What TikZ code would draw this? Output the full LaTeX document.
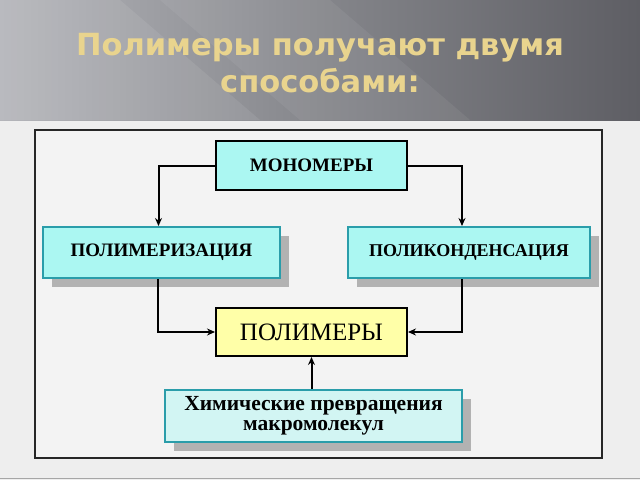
\documentclass[tikz,border=0pt]{standalone}
\usepackage{fontspec}
\setmainfont{Liberation Serif}
\newfontfamily\titlefont{DejaVu Sans}
\usetikzlibrary{arrows.meta,shadows,calc}
\definecolor{cyanfill}{HTML}{ABF7F2}
\definecolor{chemfill}{HTML}{D2F5F3}
\definecolor{tealborder}{HTML}{2A9DAA}
\definecolor{yelfill}{HTML}{FFFFA8}
\definecolor{titlecol}{HTML}{E9D48E}
\definecolor{lowbg}{HTML}{EEEEEE}
\definecolor{panelbg}{HTML}{F3F3F3}
\definecolor{bandL}{HTML}{B4B5BA}
\definecolor{bandM}{HTML}{85868B}
\definecolor{bandR}{HTML}{5E5E64}
\definecolor{shadowcol}{HTML}{B2B2B2}
\tikzset{
  boxbase/.style={rectangle, line width=2pt, align=center, inner sep=0pt},
  blackbox/.style={boxbase, draw=black},
  tealbox/.style={boxbase, draw=tealborder,
     drop shadow={shadow xshift=9pt, shadow yshift=-9pt, fill=shadowcol, opacity=1}},
  capfont/.style={font=\bfseries\fontsize{19}{21}\selectfont},
  arr/.style={line width=2pt, -{Stealth[length=8pt,width=7pt]}},
}
\begin{document}
\begin{tikzpicture}[x=1pt,y=-1pt]
\useasboundingbox (0,0) rectangle (640,480);
% background
\fill[lowbg] (0,0) rectangle (640,480);
\shade[left color=bandL, right color=bandR, middle color=bandM] (0,0) rectangle (640,120);
\fill[white, opacity=0.08] (0,0) -- (120,0) -- (260,120) -- (0,120) -- cycle;
\fill[white, opacity=0.06] (160,0) -- (330,0) -- (470,120) -- (300,120) -- cycle;
\draw[gray!70, line width=1pt] (0,478.5) -- (640,478.5);
% title
\node[text=titlecol, align=center, font=\titlefont\bfseries\fontsize{30.5}{37}\selectfont] (title) at (320,63) {Полимеры получают двумя\\способами:};
% panel
\node[draw={black!85}, line width=1.5pt, fill=panelbg, minimum width=567pt, minimum height=328pt, inner sep=0pt] (panel) at (318.5,294) {};
% boxes
\node[blackbox, fill=cyanfill, minimum width=191pt, minimum height=49pt, capfont] (mono) at (311.5,165.5) {МОНОМЕРЫ};
\node[tealbox, fill=cyanfill, minimum width=237pt, minimum height=51pt, capfont] (polym) at (161.5,252.5) {ПОЛИМЕРИЗАЦИЯ};
\node[tealbox, fill=cyanfill, minimum width=242pt, minimum height=51pt, font=\bfseries\fontsize{18}{20}\selectfont] (polyk) at (469,252.5) {ПОЛИКОНДЕНСАЦИЯ};
\node[blackbox, fill=yelfill, minimum width=191pt, minimum height=48pt, font=\fontsize{25}{28}\selectfont] (polymers) at (311.5,332) {ПОЛИМЕРЫ};
\node[tealbox, fill=chemfill, minimum width=297pt, minimum height=52pt, font=\bfseries\fontsize{21.5}{20}\selectfont] (chem) at (313.5,416) {Химические превращения\\макромолекул};
% connectors
\draw[arr] (mono.west) -| ([xshift=-3pt]polym.north);
\draw[arr] (mono.east) -| ([xshift=-7pt]polyk.north);
\draw[arr] ([xshift=-4pt]polym.south) |- (polymers.west);
\draw[arr] ([xshift=-7pt]polyk.south) |- (polymers.east);
\draw[arr] (chem.north -| polymers.south) -- (polymers.south);
\end{tikzpicture}
\end{document}
